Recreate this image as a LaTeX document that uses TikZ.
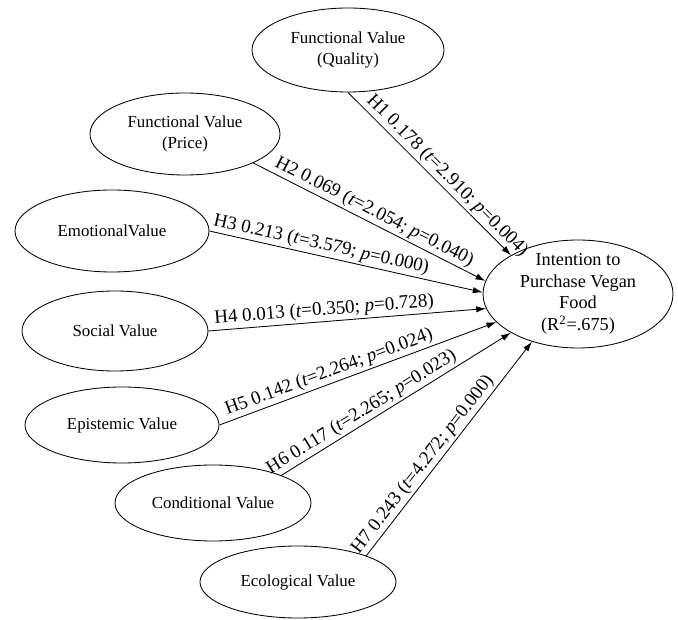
\documentclass[tikz,border=0pt]{standalone}
\usepackage{fontspec}
\setmainfont{Liberation Serif}
\usetikzlibrary{shapes.geometric,arrows.meta}

\begin{document}
\begin{tikzpicture}[
    construct/.style={ellipse, draw, line width=0.6pt, inner sep=0pt, align=center, font=\fontsize{12}{14.5}\selectfont},
    hyp/.style={-{Latex[length=7pt,width=4.5pt]}, line width=0.6pt},
    coef/.style={sloped, above, inner sep=1.5pt, font=\fontsize{13.5}{15}\selectfont}
    ]
    \useasboundingbox (0,0) rectangle (16.95,15.475);
    \node[construct, minimum width=4.8cm, minimum height=2.1cm] (quality) at (8.70,14.225) {Functional Value\\(Quality)};
    \node[construct, minimum width=4.75cm, minimum height=2.05cm] (price) at (4.625,12.125) {Functional Value\\(Price)};
    \node[construct, minimum width=4.85cm, minimum height=2.05cm] (emotional) at (2.80,9.70) {EmotionalValue};
    \node[construct, minimum width=4.65cm, minimum height=2cm] (social) at (2.875,7.20) {Social Value};
    \node[construct, minimum width=4.85cm, minimum height=1.9cm] (epistemic) at (3.05,4.85) {Epistemic Value};
    \node[construct, minimum width=4.9cm, minimum height=1.9cm] (conditional) at (5.325,2.90) {Conditional Value};
    \node[construct, minimum width=4.9cm, minimum height=1.8cm] (ecological) at (7.45,0.925) {Ecological Value};
    \node[construct, minimum width=4.75cm, minimum height=2.7cm, inner ysep=-2.5pt, font=\fontsize{13}{15.5}\selectfont] (intention) at (14.45,8.125) {Intention to\\Purchase Vegan\\Food\\(R\textsuperscript{2}=.675)};

    \draw[hyp] (quality.270) -- (intention.150) node[coef, pos=0.56] {H1 0.178 (\textit{t}=2.910; \textit{p}=0.004)};
    \draw[hyp] (price.337) -- (intention.172) node[coef, pos=0.5] {H2 0.069 (\textit{t}=2.054; \textit{p}=0.040)};
    \draw[hyp] (emotional.east) -- (intention.179) node[coef, pos=0.4] {H3 0.213 (\textit{t}=3.579; \textit{p}=0.000)};
    \draw[hyp] (social.east) -- (intention.189) node[coef, pos=0.42] {H4 0.013 (\textit{t}=0.350; \textit{p}=0.728)};
    \draw[hyp] (epistemic.east) -- (intention.199) node[coef, pos=0.41] {H5 0.142 (\textit{t}=2.264; \textit{p}=0.024)};
    \draw[hyp] (conditional.22) -- (intention.210) node[coef, pos=0.375] {H6 0.117 (\textit{t}=2.265; \textit{p}=0.023)};
    \draw[hyp] (ecological.21) -- (intention.226) node[coef, pos=0.395] {H7 0.243 (\textit{t}=4.272; \textit{p}=0.000)};
\end{tikzpicture}
\end{document}
